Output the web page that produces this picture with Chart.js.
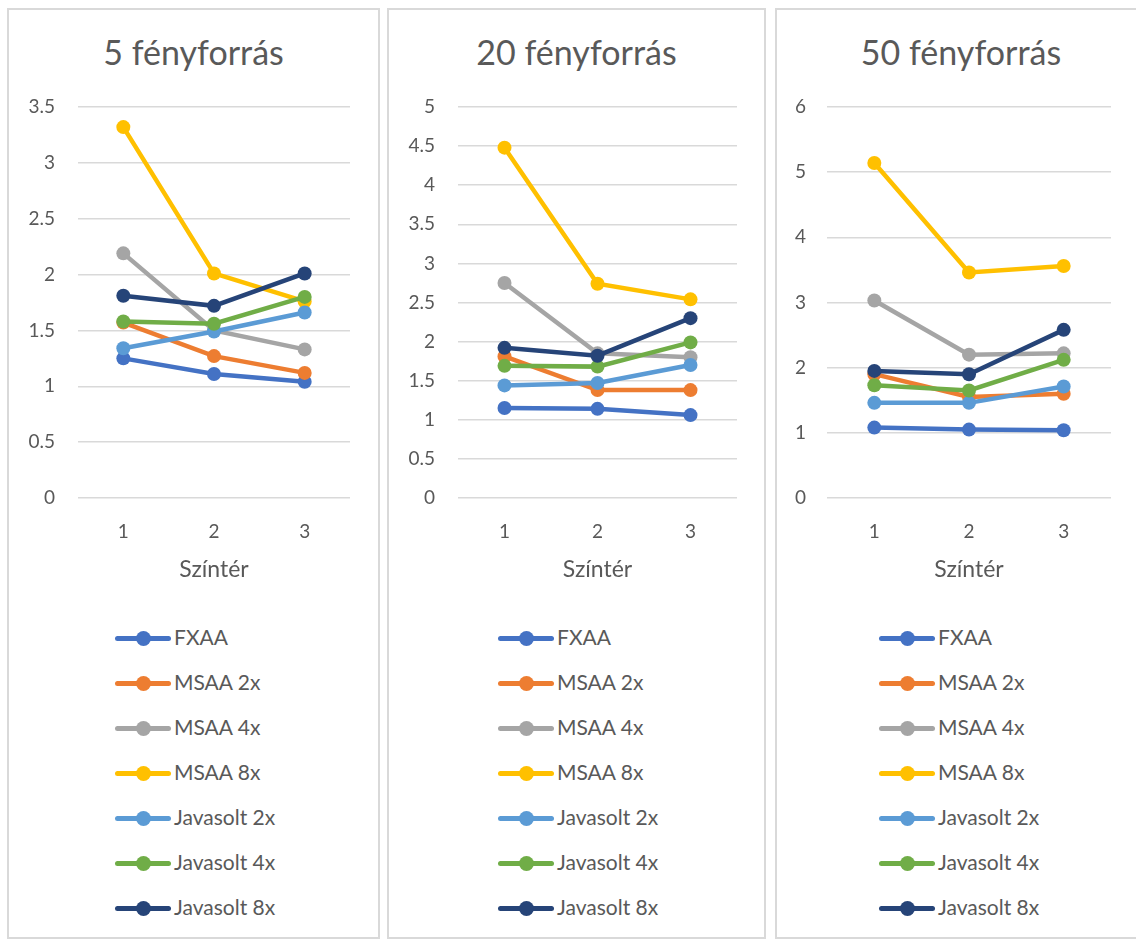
<!DOCTYPE html>
<html>
<head>
<meta charset="utf-8">
<script src="https://cdn.jsdelivr.net/npm/chart.js@4/dist/chart.umd.min.js"></script>
<style>
  html, body { margin: 0; padding: 0; background: #fff; }
  body { width: 1136px; height: 942px; position: relative; overflow: hidden; font-family: Lato, "Noto Sans", sans-serif; }
  .panel { position: absolute; top: 8px; height: 931px; border: 2px solid #d9d9d9; box-sizing: border-box; background: #fff; }
  .title { position: absolute; top: 32px; height: 40px; line-height: 40px; font-size: 34px; color: #595959; text-align: center; white-space: nowrap; }
  .chartbox { position: absolute; top: 8px; height: 600px; }
  .legend { position: absolute; top: 626px; }
  .item { position: relative; height: 45px; }
  .swatch { position: absolute; left: 0; top: 10px; width: 56px; height: 5px; border-radius: 3px; }
  .dot { position: absolute; left: 21px; top: 5px; width: 15px; height: 15px; border-radius: 50%; }
  .label { position: absolute; left: 59px; top: -2px; font-size: 21px; color: #595959; white-space: nowrap; }
</style>
</head>
<body>
<div class="panel" style="left:7px;width:373px"></div>
<div class="panel" style="left:387px;width:379px"></div>
<div class="panel" style="left:775px;width:380px"></div>

<div class="title" id="t0" style="left:7px;width:373px"></div>
<div class="title" id="t1" style="left:387px;width:379px"></div>
<div class="title" id="t2" style="left:775px;width:372px"></div>

<div class="chartbox" style="left:7px;width:372px"><canvas id="c0"></canvas></div>
<div class="chartbox" style="left:387px;width:378px"><canvas id="c1"></canvas></div>
<div class="chartbox" style="left:775px;width:361px"><canvas id="c2"></canvas></div>

<div class="legend" id="l0" style="left:115px"></div>
<div class="legend" id="l1" style="left:498px"></div>
<div class="legend" id="l2" style="left:879px"></div>

<script>
// Panels: number of light sources
const panelTitles = ['5 fényforrás', '20 fényforrás', '50 fényforrás'];
// Scenes on the x axis
const scenes = ['1', '2', '3'];
const xTitle = 'Színtér';

// Y axis range per panel
const yMax = [3.5, 5, 6];
const yStep = [0.5, 0.5, 1];

// Series names and colours
const seriesNames = ['FXAA', 'MSAA 2x', 'MSAA 4x', 'MSAA 8x', 'Javasolt 2x', 'Javasolt 4x', 'Javasolt 8x'];
const seriesColors = ['#4472C4', '#ED7D31', '#A5A5A5', '#FFC000', '#5B9BD5', '#70AD47', '#264478'];

// Values per series: one row per panel (5, 20, 50 light sources), one value per scene
const fxaa       = [[1.25, 1.11, 1.04], [1.15, 1.14, 1.06], [1.08, 1.05, 1.04]];
const msaa2x     = [[1.57, 1.27, 1.12], [1.81, 1.38, 1.38], [1.90, 1.55, 1.60]];
const msaa4x     = [[2.19, 1.50, 1.33], [2.75, 1.85, 1.80], [3.03, 2.20, 2.22]];
const msaa8x     = [[3.32, 2.01, 1.76], [4.48, 2.74, 2.54], [5.14, 3.46, 3.56]];
const javasolt2x = [[1.34, 1.49, 1.66], [1.44, 1.47, 1.70], [1.46, 1.46, 1.71]];
const javasolt4x = [[1.58, 1.56, 1.80], [1.69, 1.68, 1.99], [1.73, 1.65, 2.12]];
const javasolt8x = [[1.81, 1.72, 2.01], [1.92, 1.82, 2.30], [1.95, 1.90, 2.58]];

const seriesValues = [fxaa, msaa2x, msaa4x, msaa8x, javasolt2x, javasolt4x, javasolt8x];

// Layout per panel (canvas coordinates)
const axisWidth = [71, 71, 52];
const tickGap = [23, 23, 21];
const rightPad = [29, 28, 25];

const textColor = '#595959';
const gridColor = '#d9d9d9';
const fontFamily = 'Lato, "Noto Sans", sans-serif';

function buildLegend(el) {
  seriesNames.forEach((name, i) => {
    const item = document.createElement('div');
    item.className = 'item';
    item.innerHTML = '<div class="swatch" style="background:' + seriesColors[i] + '"></div>' +
      '<div class="dot" style="background:' + seriesColors[i] + '"></div>' +
      '<div class="label">' + name + '</div>';
    el.appendChild(item);
  });
}

panelTitles.forEach((title, p) => {
  document.getElementById('t' + p).textContent = title;

  const datasets = seriesNames.map((name, i) => ({
    label: name,
    data: seriesValues[i][p],
    borderColor: seriesColors[i],
    backgroundColor: seriesColors[i],
    borderWidth: 4.5,
    pointRadius: 7,
    pointHoverRadius: 7,
    pointBorderWidth: 0,
    tension: 0,
    order: seriesNames.length - i
  }));

  new Chart(document.getElementById('c' + p), {
    type: 'line',
    data: { labels: scenes, datasets },
    options: {
      responsive: true,
      maintainAspectRatio: false,
      animation: false,
      layout: { padding: { left: 0, right: rightPad[p], top: 99, bottom: 0 } },
      plugins: {
        legend: { display: false },
        tooltip: { enabled: false },
        title: { display: false }
      },
      scales: {
        x: {
          offset: true,
          grid: { display: false },
          border: { display: false },
          ticks: { color: textColor, font: { family: fontFamily, size: 19 }, padding: 14 },
          title: {
            display: true,
            text: xTitle,
            color: textColor,
            font: { family: fontFamily, size: 23 },
            padding: { top: 0, bottom: 25 }
          },
          afterFit: s => { s.height = 110; }
        },
        y: {
          min: 0,
          max: yMax[p],
          grid: { color: gridColor, lineWidth: 1.5, drawTicks: false },
          border: { display: false },
          ticks: {
            stepSize: yStep[p],
            color: textColor,
            font: { family: fontFamily, size: 19 },
            padding: tickGap[p],
            callback: v => String(v)
          },
          afterFit: s => { s.width = axisWidth[p]; }
        }
      }
    }
  });

  buildLegend(document.getElementById('l' + p));
});
</script>
</body>
</html>
